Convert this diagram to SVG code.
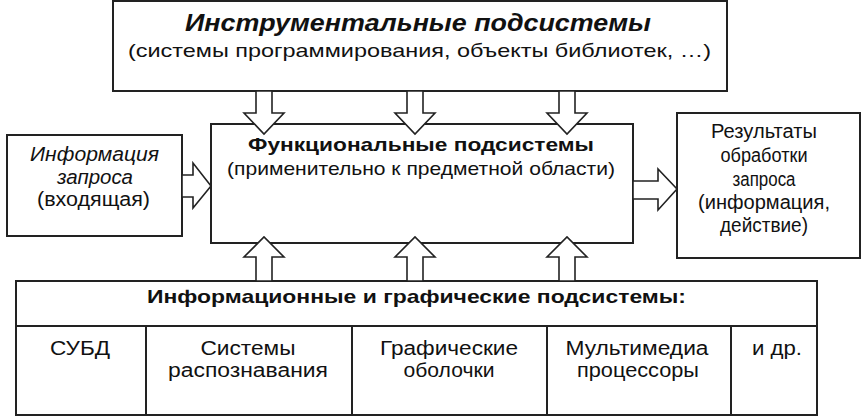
<svg xmlns="http://www.w3.org/2000/svg" width="862" height="417" viewBox="0 0 862 417">
<style>
.box{fill:#fff;stroke:#222;stroke-width:2}
.ln{fill:none;stroke:#222;stroke-width:2}
.arr{fill:#fff;stroke:#222;stroke-width:1.6;stroke-linejoin:miter}
text{font-family:"Liberation Sans",Arial,sans-serif;fill:#111;text-anchor:middle}
.t{font-size:20px}
.b{font-weight:bold}
.i{font-style:italic}
</style>
<rect width="862" height="417" fill="#fff"/>
<g id="tools">
<rect class="box" x="113" y="1" width="614" height="90"/>
<text class="b i" x="418" y="31" font-size="23" textLength="466" lengthAdjust="spacingAndGlyphs">Инструментальные подсистемы</text>
<text x="419.5" y="57" font-size="19" textLength="583" lengthAdjust="spacingAndGlyphs">(системы программирования, объекты библиотек, …)</text>
</g>
<g id="functional">
<rect class="box" x="211" y="124" width="422" height="119"/>
<text class="b" x="421" y="151" font-size="19" textLength="346" lengthAdjust="spacingAndGlyphs">Функциональные подсистемы</text>
<text x="421" y="175" font-size="19" textLength="388" lengthAdjust="spacingAndGlyphs">(применительно к предметной области)</text>
</g>
<g id="input">
<rect class="box" x="7" y="135" width="175" height="101"/>
<text class="t i" x="94.5" y="161" textLength="129" lengthAdjust="spacingAndGlyphs">Информация</text>
<text class="t i" x="95" y="184" textLength="76" lengthAdjust="spacingAndGlyphs">запроса</text>
<text class="t" x="93.5" y="206" textLength="113" lengthAdjust="spacingAndGlyphs">(входящая)</text>
</g>
<g id="results">
<rect class="box" x="677" y="113" width="183" height="145"/>
<text class="t" x="764" y="138" textLength="106" lengthAdjust="spacingAndGlyphs">Результаты</text>
<text class="t" x="764" y="162" textLength="87" lengthAdjust="spacingAndGlyphs">обработки</text>
<text class="t" x="764" y="186" textLength="63" lengthAdjust="spacingAndGlyphs">запроса</text>
<text class="t" x="764" y="209" textLength="132" lengthAdjust="spacingAndGlyphs">(информация,</text>
<text class="t" x="764" y="232" textLength="88" lengthAdjust="spacingAndGlyphs">действие)</text>
</g>
<g id="info">
<rect class="box" x="16" y="281" width="801" height="134"/>
<line class="ln" x1="16" y1="326" x2="817" y2="326"/>
<line class="ln" x1="146" y1="326" x2="146" y2="415"/>
<line class="ln" x1="352" y1="326" x2="352" y2="415"/>
<line class="ln" x1="547" y1="326" x2="547" y2="415"/>
<line class="ln" x1="731" y1="326" x2="731" y2="415"/>
<text class="b" x="416.5" y="303" font-size="19" textLength="539" lengthAdjust="spacingAndGlyphs">Информационные и графические подсистемы:</text>
<text class="t" x="80" y="355" textLength="60" lengthAdjust="spacingAndGlyphs">СУБД</text>
<text class="t" x="248" y="355" textLength="95" lengthAdjust="spacingAndGlyphs">Системы</text>
<text class="t" x="248" y="377" textLength="160" lengthAdjust="spacingAndGlyphs">распознавания</text>
<text class="t" x="449" y="355" textLength="138" lengthAdjust="spacingAndGlyphs">Графические</text>
<text class="t" x="449" y="377" textLength="91" lengthAdjust="spacingAndGlyphs">оболочки</text>
<text class="t" x="637" y="355" textLength="143" lengthAdjust="spacingAndGlyphs">Мультимедиа</text>
<text class="t" x="638" y="377" textLength="122" lengthAdjust="spacingAndGlyphs">процессоры</text>
<text class="t" x="777" y="355" textLength="50" lengthAdjust="spacingAndGlyphs">и др.</text>
</g>
<g id="connectors">
<polygon class="arr" points="256,91 272,91 272,113 284,113 264,134 244,113 256,113"/>
<polygon class="arr" points="407,91 423,91 423,113 435,113 415,134 395,113 407,113"/>
<polygon class="arr" points="559,91 575,91 575,113 587,113 567,134 547,113 559,113"/>
<polygon class="arr" points="256,281 256,257 244,257 264,237 284,257 272,257 272,281"/>
<polygon class="arr" points="407,281 407,257 395,257 415,237 435,257 423,257 423,281"/>
<polygon class="arr" points="559,281 559,257 547,257 567,237 587,257 575,257 575,281"/>
<polygon class="arr" points="182,175 193,175 193,163 211,186 193,208 193,197 182,197"/>
<polygon class="arr" points="633,181 658,181 658,169 677,189 658,210 658,199 633,199"/>
</g>
</svg>
